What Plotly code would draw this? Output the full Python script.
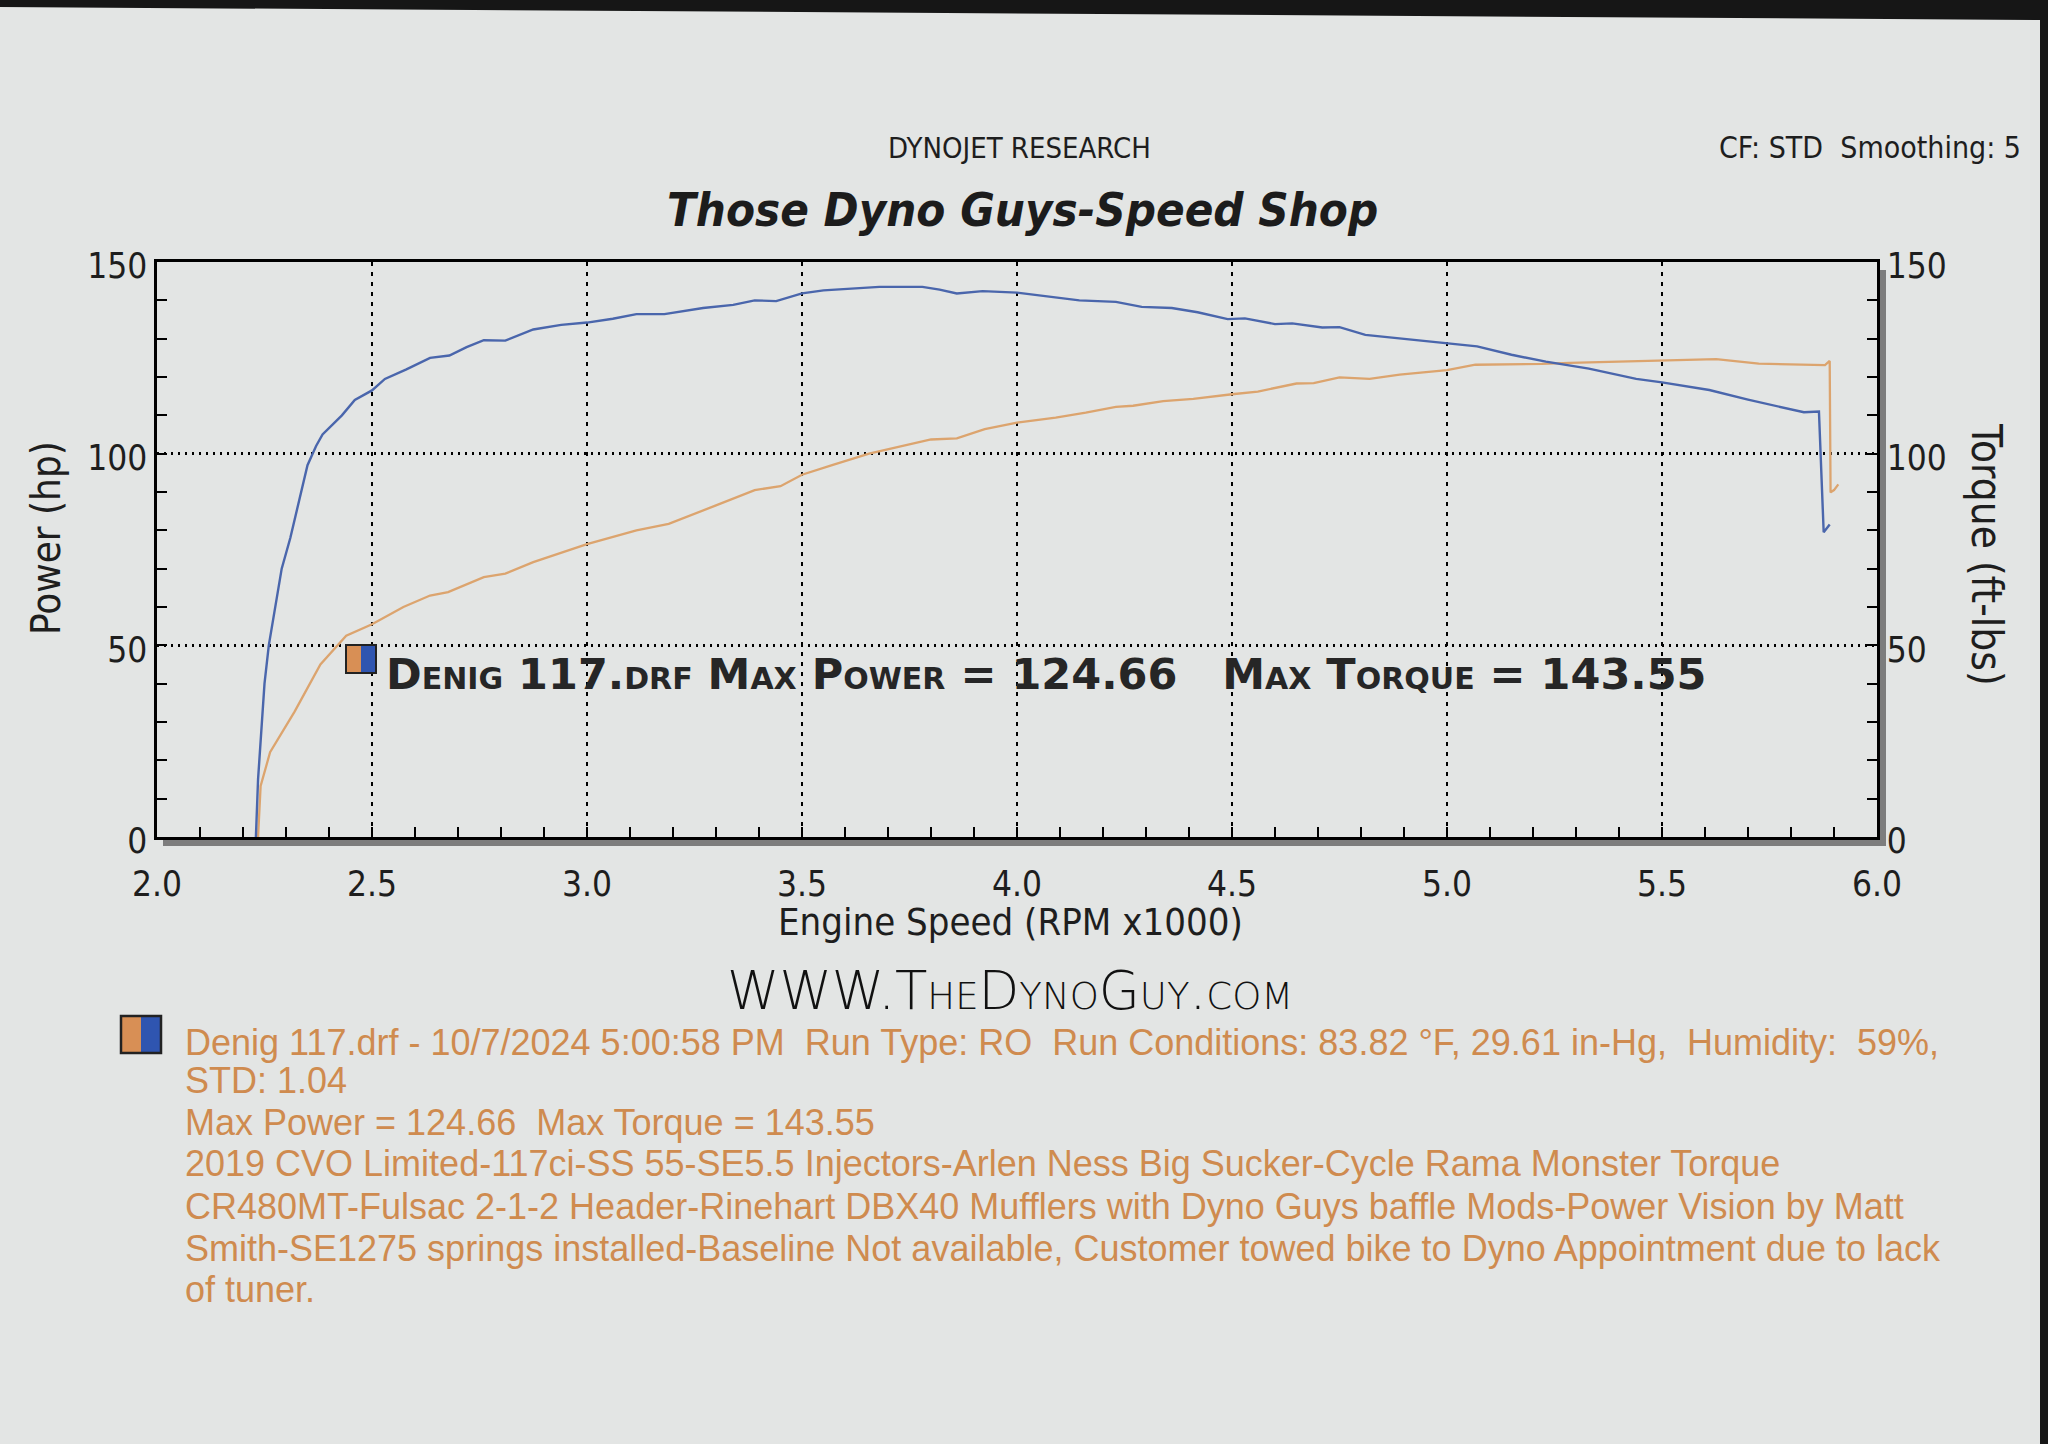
import plotly.graph_objects as go

# ---------------- data (read from the dyno sheet) ----------------
torque_rpm = [2.23, 2.235, 2.25, 2.26, 2.29, 2.31, 2.35, 2.37, 2.385, 2.43, 2.46, 2.50, 2.53, 2.58,
              2.635, 2.68, 2.72, 2.76, 2.81, 2.875, 2.94, 3.00, 3.06, 3.115, 3.18, 3.27, 3.34,
              3.39, 3.44, 3.50, 3.55, 3.62, 3.68, 3.78, 3.82, 3.86, 3.92, 4.00, 4.07, 4.145,
              4.23, 4.29, 4.36, 4.42, 4.49, 4.53, 4.60, 4.64, 4.71, 4.75, 4.81, 4.88, 4.94,
              5.00, 5.07, 5.15, 5.23, 5.33, 5.44, 5.50, 5.61, 5.70, 5.83, 5.865, 5.872, 5.876, 5.89]
torque_ftlb = [0, 15, 40, 50, 70, 78, 97, 102, 105, 110, 114, 116.5, 119.5, 122,
               125, 125.6, 127.8, 129.6, 129.5, 132.4, 133.6, 134.2, 135.2, 136.4, 136.4, 138.0, 138.8,
               140.0, 139.8, 141.8, 142.6, 143.0, 143.5, 143.5, 142.8, 141.8, 142.4, 142.0, 141.0, 140.0,
               139.6, 138.3, 138.0, 136.9, 135.1, 135.3, 133.8, 134.0, 132.9, 133.0, 131.0, 130.2, 129.5,
               128.7, 128.0, 125.8, 124.0, 122.2, 119.5, 118.6, 116.6, 114.1, 110.8, 111.0, 90.0, 79.5, 81.5]

power_rpm = [2.235, 2.241, 2.263, 2.32, 2.38, 2.42, 2.44, 2.50, 2.573, 2.635, 2.677, 2.76, 2.81,
             2.875, 3.00, 3.115, 3.19, 3.30, 3.39, 3.45, 3.50, 3.57, 3.656, 3.80, 3.86, 3.925,
             4.00, 4.09, 4.16, 4.23, 4.27, 4.34, 4.41, 4.50, 4.56, 4.65, 4.69, 4.75, 4.82, 4.89,
             5.00, 5.066, 5.22, 5.286, 5.50, 5.626, 5.725, 5.879, 5.89, 5.892, 5.90, 5.91]
power_hp = [0, 13.3, 22.1, 32.7, 45.0, 50.0, 52.5, 55.5, 60.0, 63.0, 63.9, 67.8, 68.7,
            71.7, 76.4, 80.0, 81.7, 86.5, 90.5, 91.5, 94.5, 97.0, 100.0, 103.7, 104.0, 106.4,
            108.1, 109.4, 110.7, 112.2, 112.5, 113.7, 114.3, 115.5, 116.2, 118.3, 118.4, 119.9, 119.5, 120.6,
            121.8, 123.2, 123.4, 123.7, 124.4, 124.66, 123.5, 123.1, 124.2, 89.9, 90.5, 92.0]

x_ticks = [2.0, 2.5, 3.0, 3.5, 4.0, 4.5, 5.0, 5.5, 6.0]
x_tick_text = ["2.0", "2.5", "3.0", "3.5", "4.0", "4.5", "5.0", "5.5", "6.0"]
y_ticks = [0, 50, 100, 150]

header_left = "DYNOJET RESEARCH"
header_right = "CF: STD  Smoothing: 5"
title_text = "Those Dyno Guys-Speed Shop"
run_label = "Denig 117.drf Max Power = 124.66 &nbsp; Max Torque = 143.55"
website = "WWW.TheDynoGuy.com"
notes = [
    "Denig 117.drf - 10/7/2024 5:00:58 PM  Run Type: RO  Run Conditions: 83.82 °F, 29.61 in-Hg,  Humidity:  59%,",
    "STD: 1.04",
    "Max Power = 124.66  Max Torque = 143.55",
    "2019 CVO Limited-117ci-SS 55-SE5.5 Injectors-Arlen Ness Big Sucker-Cycle Rama Monster Torque",
    "CR480MT-Fulsac 2-1-2 Header-Rinehart DBX40 Mufflers with Dyno Guys baffle Mods-Power Vision by Matt",
    "Smith-SE1275 springs installed-Baseline Not available, Customer towed bike to Dyno Appointment due to lack",
    "of tuner.",
]

# ---------------- layout geometry ----------------
FW, FH = 2048, 1444
L, R, T, B = 157, 1877, 262, 837
W, H = R - L, B - T

def px(x):
    return (x - L) / W

def py(y):
    return (B - y) / H

BLUE = "#4A66AC"
ORANGE = "#DCA46E"
TXT_OR = "#CF8B4F"
INK = "#1E1E1E"
PAPER = "#E3E5E4"
COND = "DejaVu Sans Condensed, Liberation Sans Narrow, DejaVu Sans, sans-serif"

fig = go.Figure()
fig.add_trace(go.Scatter(x=power_rpm, y=power_hp, mode="lines", name="Power (hp)",
                         line=dict(color=ORANGE, width=2.3), yaxis="y", showlegend=False))
fig.add_trace(go.Scatter(x=torque_rpm, y=torque_ftlb, mode="lines", name="Torque (ft-lbs)",
                         line=dict(color=BLUE, width=2.4), yaxis="y2", showlegend=False))

axis_common = dict(showline=True, linecolor="black", linewidth=2.5, ticks="inside",
                   ticklen=10, tickwidth=2, tickcolor="black", zeroline=False,
                   tickfont=dict(family=COND, size=35, color=INK))

fig.update_layout(
    width=FW, height=FH,
    margin=dict(l=L, r=FW - R, t=T, b=FH - B),
    paper_bgcolor=PAPER, plot_bgcolor=PAPER,
    xaxis=dict(range=[2.0, 6.0], tickvals=x_ticks, ticktext=x_tick_text, mirror=True,
               showgrid=True, gridcolor="black", gridwidth=2, griddash="4px,6px",
               ticklabelstandoff=14,
               minor=dict(dtick=0.1, ticks="inside", ticklen=10, tickwidth=2, tickcolor="black",
                          showgrid=False),
               **axis_common),
    yaxis=dict(range=[0, 150], tickvals=y_ticks, showgrid=True, gridcolor="black", gridwidth=2.5,
               griddash="2px,5px", ticklabelshift=4,
               minor=dict(dtick=10, ticks="inside", ticklen=10, tickwidth=2, tickcolor="black",
                          showgrid=False),
               **axis_common),
    yaxis2=dict(range=[0, 150], tickvals=y_ticks, overlaying="y", side="right", showgrid=False,
                ticklabelshift=4,
                minor=dict(dtick=10, ticks="inside", ticklen=10, tickwidth=2, tickcolor="black",
                           showgrid=False),
                **axis_common),
)

shapes = []
# 3D shadow of the frame (bottom and right)
shapes.append(dict(type="rect", xref="paper", yref="paper", x0=px(L + 6), x1=px(R + 9),
                   y0=py(B + 9), y1=py(B + 1), fillcolor="#7d7d7d", line=dict(width=0), layer="below"))
shapes.append(dict(type="rect", xref="paper", yref="paper", x0=px(R + 1), x1=px(R + 9),
                   y0=py(B + 9), y1=py(T + 8), fillcolor="#7d7d7d", line=dict(width=0), layer="below"))
# legend chip inside plot
shapes.append(dict(type="rect", xref="paper", yref="paper", x0=px(346), x1=px(361), y0=py(673), y1=py(645),
                   fillcolor="#D88F55", line=dict(width=0)))
shapes.append(dict(type="rect", xref="paper", yref="paper", x0=px(361), x1=px(376), y0=py(673), y1=py(645),
                   fillcolor="#2F55B0", line=dict(width=0)))
shapes.append(dict(type="rect", xref="paper", yref="paper", x0=px(346), x1=px(376), y0=py(673), y1=py(645),
                   line=dict(color="#222", width=2)))
# legend chip in notes
shapes.append(dict(type="rect", xref="paper", yref="paper", x0=px(121), x1=px(141), y0=py(1053), y1=py(1016),
                   fillcolor="#D88F55", line=dict(width=0)))
shapes.append(dict(type="rect", xref="paper", yref="paper", x0=px(141), x1=px(161), y0=py(1053), y1=py(1016),
                   fillcolor="#2F55B0", line=dict(width=0)))
shapes.append(dict(type="rect", xref="paper", yref="paper", x0=px(121), x1=px(161), y0=py(1053), y1=py(1016),
                   line=dict(color="#222", width=2.5)))
# dark photo background at the edges
shapes.append(dict(type="path", xref="paper", yref="paper",
                   path=f"M {px(0)} {py(0)} L {px(FW)} {py(0)} L {px(FW)} {py(20)} L {px(0)} {py(7)} Z",
                   fillcolor="#161616", line=dict(width=0)))
shapes.append(dict(type="rect", xref="paper", yref="paper", x0=px(2040), x1=px(FW), y0=py(FH), y1=py(0),
                   fillcolor="#161616", line=dict(width=0)))
fig.update_layout(shapes=shapes)

anns = []
def ann(text, x, y, size, color=INK, family=COND, xanchor="center", yanchor="middle", **kw):
    font = dict(family=family, size=size, color=color)
    for k in ("weight", "style", "variant"):
        if k in kw:
            font[k] = kw.pop(k)
    anns.append(dict(text=text, x=px(x), y=py(y), xref="paper", yref="paper", showarrow=False,
                     xanchor=xanchor, yanchor=yanchor, font=font, **kw))

ann(header_left, 1019, 148, 29)
ann(header_right, 2023, 148, 30, xanchor="right")
ann(title_text, 1022, 209, 47, color="#1c1c1c", weight="bold", style="italic")
ann("Power (hp)", 46, 538, 40, textangle=-90)
ann("Torque (ft-lbs)", 1987, 555, 42, textangle=90)
ann("Engine Speed (RPM x1000)", 1010, 922, 38)
ann(run_label, 384, 674, 43, color="#262626", family="DejaVu Sans, sans-serif",
    xanchor="left", weight="bold", variant="small-caps")
ann(website, 1010, 990, 53, color="#111", family="DejaVu Sans, sans-serif",
    variant="small-caps", weight=300)
note_y = [1042, 1080, 1122, 1163, 1206, 1248, 1289]
for txt, yy in zip(notes, note_y):
    ann(txt, 183, yy, 36, color=TXT_OR, family="Liberation Sans, Arial, sans-serif", xanchor="left")
fig.update_layout(annotations=anns)

fig.write_html("out.html", config={"displayModeBar": False},
               post_script="document.body.style.margin='0';document.body.style.background='#E3E5E4';")
